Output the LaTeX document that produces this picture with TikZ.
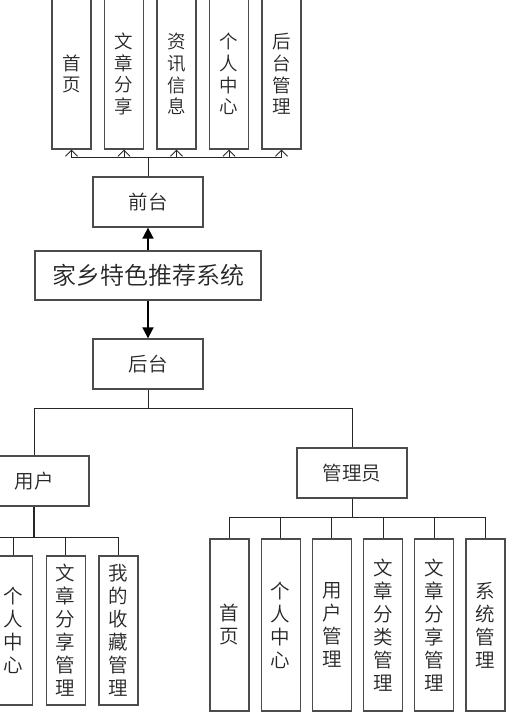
\documentclass[tikz,border=0pt]{standalone}
\usepackage{fontspec}
\setmainfont{Noto Sans CJK SC DemiLight}
\usepackage{tikz}
\usetikzlibrary{arrows.meta}

\begin{document}
\begin{tikzpicture}[x=1pt, y=-1pt, thick,
  box/.style={rectangle, draw=black!70, line width=1.3pt, fill=white, text=black!85,
    minimum width=110pt, minimum height=50pt, font=\fontsize{19.5}{22}\selectfont},
  vbox/.style={rectangle, draw=black!70, line width=1.3pt, fill=white, text=black!85,
    minimum width=39pt, align=center, inner sep=0pt},
  topbox/.style={vbox, minimum height=150pt, font=\fontsize{18.5}{21.7}\selectfont},
  subbox/.style={vbox, minimum height=149pt, font=\fontsize{19.5}{23}\selectfont},
  admbox/.style={vbox, minimum height=172pt, font=\fontsize{19.5}{23}\selectfont},
  link/.style={draw=black!85, line width=0.9pt},
  openarrow/.style={link, -{Straight Barb[length=6pt, width=12pt]}},
  bigarrow/.style={draw=black, line width=1.8pt, -{Triangle[length=11pt, width=11pt]}}]

  \useasboundingbox (0,0) rectangle (516,712);
  \clip (0,0) rectangle (516,712);

  % 系统与前后台
  \node[box, minimum width=226pt, minimum height=49pt, font=\fontsize{24}{26}\selectfont]
       (sys) at (148,275.5) {家乡特色推荐系统};
  \node[box] (front) at (148,202) {前台};
  \node[box] (back) at (148,364) {后台};

  % 前台模块
  \begin{scope}[node distance=52.5pt]
  \node[topbox] (t1) at (71.5,74) {首\\页};
  \node[topbox] (t2) [right of=t1] {文\\章\\分\\享};
  \node[topbox] (t3) [right of=t2] {资\\讯\\信\\息};
  \node[topbox] (t4) [right of=t3] {个\\人\\中\\心};
  \node[topbox] (t5) [right of=t4] {后\\台\\管\\理};
  \end{scope}

  % 用户与管理员
  \node[box] (user) at (34,481) {用户};
  \node[box] (admin) at (352,473) {管理员};

  \begin{scope}[node distance=52.7pt]
  \coordinate (u0) at (-40,556);
  \node[subbox] (u1) at (13,630.5) {个\\人\\中\\心};
  \node[subbox] (u2) [right of=u1] {文\\章\\分\\享\\管\\理};
  \node[subbox] (u3) [right of=u2] {我\\的\\收\\藏\\管\\理};
  \end{scope}

  \begin{scope}[node distance=51.2pt]
  \node[admbox] (a1) at (229.5,625) {首\\页};
  \node[admbox] (a2) [right of=a1] {个\\人\\中\\心};
  \node[admbox] (a3) [right of=a2] {用\\户\\管\\理};
  \node[admbox] (a4) [right of=a3] {文\\章\\分\\类\\管\\理};
  \node[admbox] (a5) [right of=a4] {文\\章\\分\\享\\管\\理};
  \node[admbox] (a6) [right of=a5] {系\\统\\管\\理};
  \end{scope}

  % 连线
  \draw[bigarrow] (sys) -- (front);
  \draw[bigarrow] (sys) -- (back);

  \foreach \t in {t1,t2,t3,t4,t5}
    \draw[openarrow] (front.north) -- ++(0,-19) -| (\t.south);

  \foreach \g in {user,admin}
    \draw[link] (back.south) -- ++(0,19) -| (\g.north);

  \draw[link, line width=1.6pt] (user.south) -- ++(0,31);
  \foreach \u in {u0,u1,u2,u3}
    \draw[link] (user.south) -- ++(0,31) -| (\u.north);

  \foreach \a in {a1,a2,a3,a4,a5,a6}
    \draw[link] (admin.south) -- ++(0,19) -| (\a.north);

\end{tikzpicture}
\end{document}
